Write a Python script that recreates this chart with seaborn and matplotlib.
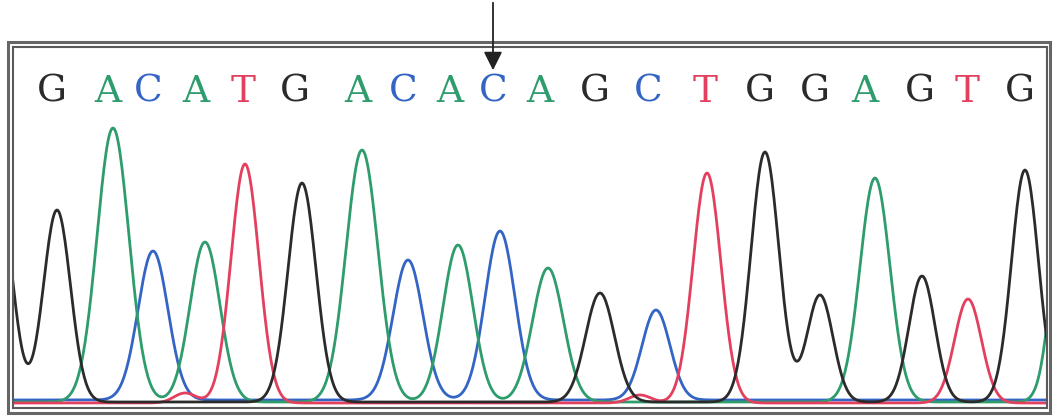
import numpy as np
import pandas as pd
import matplotlib
matplotlib.use("Agg")
import matplotlib.pyplot as plt
import seaborn as sns
from matplotlib.patches import Rectangle, FancyArrowPatch

# ---- data (x in scan units, heights in signal units) ----
base_calls = list("GACATGACACAGCTGGAGTG")
call_pos = [52, 108, 148, 196, 243, 295, 358, 403, 450, 493,
            540, 595, 648, 705, 760, 815, 865, 920, 967, 1020]

g_pos = [0, 57, 302, 600, 765, 820, 922, 1025]
g_height = [195, 192, 219, 109, 250, 107, 126, 232]
g_width = [13, 13.5, 14, 14.5, 14, 13, 13, 13.5]

a_pos = [113, 205, 362, 458, 548, 875, 1066]
a_height = [274, 160, 252, 157, 134, 224, 230]
a_width = [16, 15, 16, 15, 15.5, 15, 13]

c_pos = [153, 408, 500, 656]
c_height = [149, 140, 169, 90]
c_width = [15, 15, 15, 14]

t_pos = [185, 245, 640, 707, 968]
t_height = [10, 239, 8, 230, 104]
t_width = [11, 14, 11, 14, 13.5]

baseline = {"G": 0.0, "A": 0.0, "C": 2.0, "T": -1.0}
marked_pos = 493

colors = {"G": "#2b2b2b", "A": "#2e9c6c", "C": "#3464c4", "T": "#e3405f"}

# ---- build traces ----
scan = np.arange(0, 1060, 1.0)
peaks = {"G": (g_pos, g_height, g_width), "A": (a_pos, a_height, a_width),
         "C": (c_pos, c_height, c_width), "T": (t_pos, t_height, t_width)}
frames = []
for base, (pos, hgt, wid) in peaks.items():
    sig = np.full_like(scan, baseline[base])
    for p, h, w in zip(pos, hgt, wid):
        sig += h * np.exp(-0.5 * ((scan - p) / w) ** 2)
    frames.append(pd.DataFrame({"scan": scan, "signal": sig, "base": base}))
df = pd.concat(frames, ignore_index=True)

# ---- figure ----
W, H = 1053, 416
fig = plt.figure(figsize=(W / 100, H / 100), dpi=100)
fig.patch.set_facecolor("white")

def fx(px):
    return px / W

def fy(py):
    return 1 - py / H

ax = fig.add_axes([fx(13), fy(408), fx(1047) - fx(13), fy(47) - fy(408)])
sns.lineplot(data=df, x="scan", y="signal", hue="base", palette=colors,
             hue_order=["C", "A", "T", "G"], estimator=None, sort=True,
             linewidth=2.0, legend=False, ax=ax)
ax.set_xlim(13, 1047)
ax.set_ylim(-6, 355)
ax.set_xticks([])
ax.set_yticks([])
ax.set_xlabel("")
ax.set_ylabel("")
for s in ax.spines.values():
    s.set_color("#5a5a5a")
    s.set_linewidth(1.5)

for b, x in zip(base_calls, call_pos):
    ax.text(x, 310, b, color=colors[b], fontsize=27, family="DejaVu Serif",
            ha="center", va="center")

# outer frame (double border look)
fig.add_artist(Rectangle((fx(8), fy(413)), fx(1050) - fx(8), fy(42) - fy(413),
                         transform=fig.transFigure, fill=False,
                         edgecolor="#666666", linewidth=2.2))

# arrow marking the base of interest
fig.add_artist(FancyArrowPatch((fx(marked_pos), fy(0)), (fx(marked_pos), fy(73)),
                               transform=fig.transFigure, arrowstyle="-|>",
                               mutation_scale=28, color="#222222", linewidth=1.3))

fig.savefig("out.png", dpi=100, facecolor="white")
